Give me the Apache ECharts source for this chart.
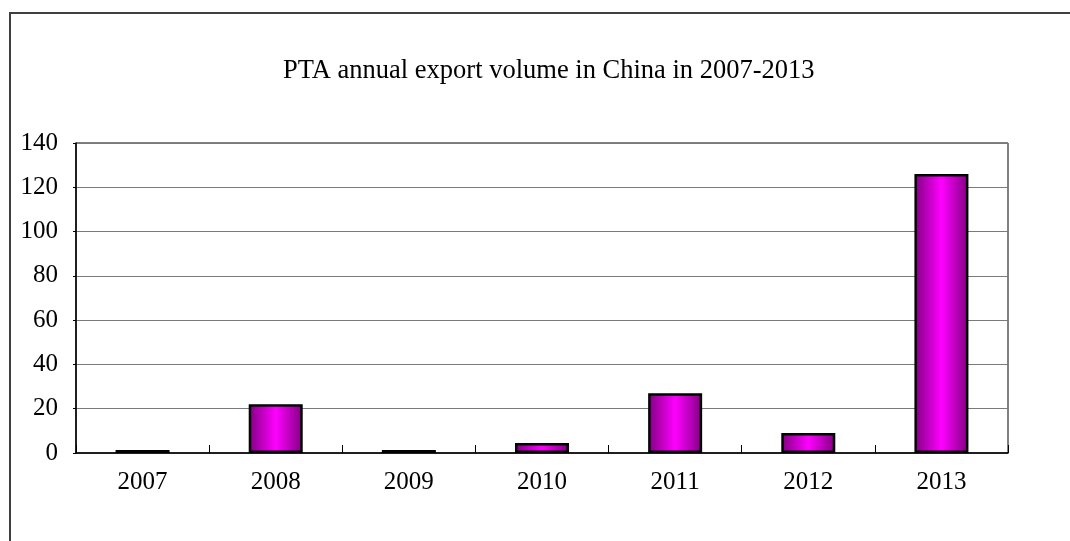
<!DOCTYPE html>
<html>
<head>
<meta charset="utf-8">
<script src="https://cdn.jsdelivr.net/npm/echarts@6/dist/echarts.min.js"></script>
<style>
  html, body { margin: 0; padding: 0; background: #fff; }
  #chart { width: 1070px; height: 541px; }
</style>
</head>
<body>
<div id="chart"></div>
<script>
// PTA export volume by year
const years = ['2007', '2008', '2009', '2010', '2011', '2012', '2013'];
const exportVolume = [1.3, 22, 1.3, 4.5, 27, 9, 126];
const yTicks = { min: 0, max: 140, interval: 20 };

const serif = '"Liberation Serif", "DejaVu Serif", serif';

const chart = echarts.init(document.getElementById('chart'), null, { renderer: 'canvas' });
chart.setOption({
  animation: false,
  backgroundColor: '#ffffff',
  title: {
    text: 'PTA annual export volume in China in 2007-2013',
    left: 278,
    top: 53,
    textStyle: { fontFamily: serif, fontSize: 26.5, fontWeight: 'normal', color: '#000' }
  },
  graphic: [
    {
      // outer frame: left and top edges only
      type: 'polyline',
      shape: { points: [[10, 541], [10, 13], [1070, 13]] },
      style: { stroke: '#404040', lineWidth: 2, fill: null },
      silent: true
    }
  ],
  grid: {
    left: 76, right: 62, top: 143, bottom: 88,
    show: true, borderColor: '#000', borderWidth: 1, backgroundColor: 'transparent'
  },
  xAxis: {
    type: 'category',
    data: years,
    boundaryGap: true,
    axisLine: { lineStyle: { color: '#000', width: 1.5 } },
    axisTick: { show: true, inside: true, length: 8, lineStyle: { color: '#000' } },
    axisLabel: { color: '#000', fontFamily: serif, fontSize: 25, margin: 17 }
  },
  yAxis: {
    type: 'value',
    min: yTicks.min, max: yTicks.max, interval: yTicks.interval,
    axisLine: { show: true, lineStyle: { color: '#000', width: 1.5 } },
    axisTick: { show: true, length: 3, lineStyle: { color: '#000' } },
    axisLabel: { color: '#000', fontFamily: serif, fontSize: 25, margin: 18 },
    splitLine: { show: true, lineStyle: { color: '#7a7a7a', width: 1.2 } }
  },
  series: [{
    type: 'bar',
    data: exportVolume,
    barWidth: 54,
    itemStyle: {
      borderColor: '#000',
      borderWidth: 2.5,
      color: new echarts.graphic.LinearGradient(0, 0, 1, 0, [
        { offset: 0, color: '#800080' },
        { offset: 0.5, color: '#ff00ff' },
        { offset: 1, color: '#800080' }
      ])
    }
  }]
});
</script>
</body>
</html>
